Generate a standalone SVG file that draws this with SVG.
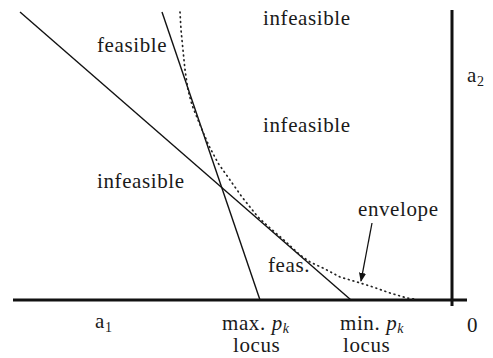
<svg xmlns="http://www.w3.org/2000/svg" width="493" height="358" viewBox="0 0 493 358">
<style>
  text { font-family: "Liberation Serif", "DejaVu Serif", serif; font-size: 21px; fill: #1a1a1a; letter-spacing: 0.6px; }
  .axis { stroke: #111; stroke-width: 3; fill: none; }
  .line { stroke: #111; stroke-width: 1.4; fill: none; }
  .env { stroke: #222; stroke-width: 1.7; fill: none; stroke-dasharray: 0.8 4; stroke-linecap: round; stroke-linejoin: round; }
  .it { font-style: italic; }
</style>
<defs>
  <marker id="arr" viewBox="0 0 10 10" refX="9" refY="5" markerWidth="9" markerHeight="9" markerUnits="userSpaceOnUse" orient="auto">
    <path d="M0,1 L10,5 L0,9 z" fill="#111"/>
  </marker>
</defs>
<rect width="493" height="358" fill="#fff"/>
<g id="axes">
  <line class="axis" x1="13" y1="300" x2="467" y2="300"/>
  <line class="axis" x1="452" y1="10" x2="452" y2="306"/>
</g>
<g id="connectors">
  <line class="line" x1="20" y1="12" x2="351" y2="300"/>
  <line class="line" x1="162" y1="12" x2="260" y2="300"/>
  <polyline class="env" points="180,12 181,30 183,50 185,70 188,90 192,105 198,120 203,132 209,146 218,163 230,180 242,197 250,207 258,217 270,228 285,241 300,255 310,262 323,268 340,277 357,282 373,287 390,293 407,298 414,299"/>
  <line x1="372" y1="223" x2="361" y2="281" stroke="#111" stroke-width="1.3" marker-end="url(#arr)"/>
</g>
<g id="labels">
  <text x="97" y="52">feasible</text>
  <text x="263" y="25">infeasible</text>
  <text x="263" y="132">infeasible</text>
  <text x="97" y="188">infeasible</text>
  <text x="268" y="272">feas.</text>
  <text x="358" y="216">envelope</text>
  <text x="467" y="82">a<tspan font-size="14" dy="4">2</tspan></text>
  <text x="95" y="328">a<tspan font-size="14" dy="4">1</tspan></text>
  <text x="222" y="330">max. <tspan class="it">p</tspan><tspan class="it" font-size="14" dy="3">k</tspan></text>
  <text x="233" y="352">locus</text>
  <text x="340" y="330">min. <tspan class="it">p</tspan><tspan class="it" font-size="14" dy="3">k</tspan></text>
  <text x="343" y="352">locus</text>
  <text x="467" y="332">0</text>
</g>
</svg>
